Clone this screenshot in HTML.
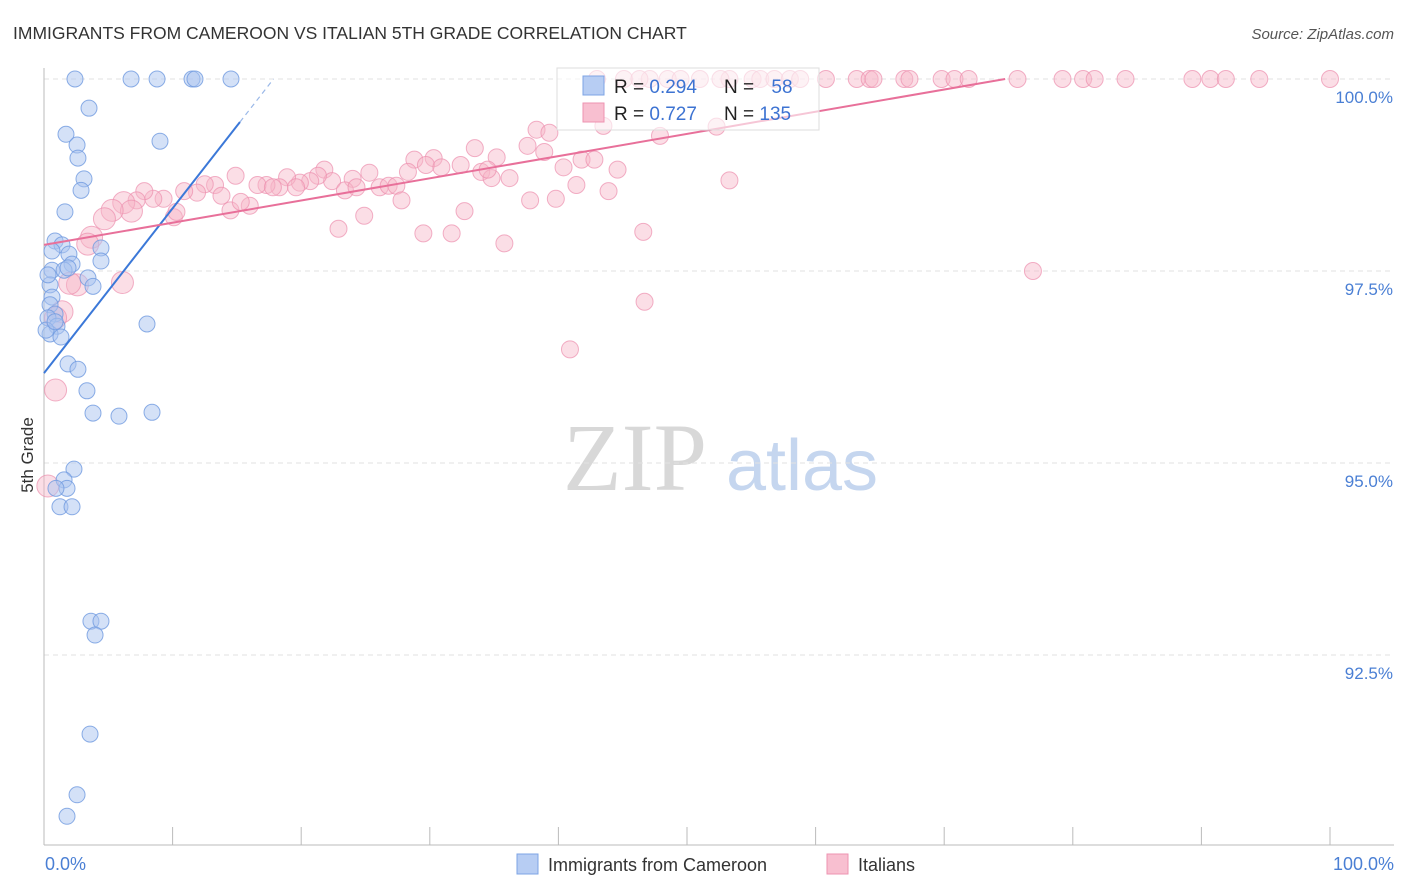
<!DOCTYPE html>
<html><head><meta charset="utf-8"><style>
body{margin:0;background:#fff;font-family:"Liberation Sans",sans-serif;}
svg{display:block}
</style></head><body>
<svg id="chart" width="1406" height="892" xmlns="http://www.w3.org/2000/svg">
<text x="13" y="39" font-size="17.5" fill="#333">IMMIGRANTS FROM CAMEROON VS ITALIAN 5TH GRADE CORRELATION CHART</text>
<text x="1394" y="39" font-size="15" fill="#555" font-style="italic" text-anchor="end">Source: ZipAtlas.com</text>
<text x="33" y="455" font-size="17" fill="#333" text-anchor="middle" transform="rotate(-90 33 455)">5th Grade</text>
<g>
<text x="635" y="490" font-size="96" fill="#d8d8d8" font-family="Liberation Serif,serif" text-anchor="middle">ZIP</text>
<text x="802" y="490" font-size="72" fill="#c5d6ef" text-anchor="middle">atlas</text>
</g>
<g id="grid"></g><g id="axes"></g><g id="pts"></g><g id="lines"></g>
<g>
<rect x="557" y="68" width="262" height="62" fill="#fff" fill-opacity="0.6" stroke="#ddd"/>
<rect x="583" y="76" width="21" height="19" fill="#b7cdf3" stroke="#7ea4e4"/>
<rect x="583" y="103" width="21" height="19" fill="#f8bfd0" stroke="#ee93b1"/>
<text x="614" y="93" font-size="19" fill="#222">R = <tspan fill="#3d73d2">0.294</tspan></text>
<text x="724" y="93" font-size="19" fill="#222">N = <tspan fill="#3d73d2" dx="12">58</tspan></text>
<text x="614" y="120" font-size="19" fill="#222">R = <tspan fill="#3d73d2">0.727</tspan></text>
<text x="724" y="120" font-size="19" fill="#222">N = <tspan fill="#3d73d2">135</tspan></text>
</g>
<g>
<rect x="517" y="854" width="21" height="20" fill="#b7cdf3" stroke="#7ea4e4"/>
<text x="548" y="871" font-size="18" fill="#333">Immigrants from Cameroon</text>
<rect x="827" y="854" width="21" height="20" fill="#f8bfd0" stroke="#ee93b1"/>
<text x="858" y="871" font-size="18" fill="#333">Italians</text>
</g>
</svg>
<script>
const blueX=[2.41,6.77,8.79,11.51,11.74,14.54,3.50,1.71,9.02,2.57,2.64,3.11,2.88,1.63,0.86,1.40,0.62,4.43,1.94,2.18,0.62,1.56,1.87,3.42,0.47,3.81,0.62,0.47,0.86,0.31,1.01,0.47,1.32,8.01,1.87,2.64,3.34,3.81,5.83,8.40,2.33,1.56,1.79,0.93,1.24,2.18,3.65,4.43,3.97,3.58,2.57,1.79,4.43,0.16,0.31,0.86];
const blueY=[100,100,100,100,100,100,99.62,99.28,99.19,99.14,98.97,98.70,98.55,98.27,97.89,97.84,97.76,97.80,97.72,97.59,97.51,97.51,97.54,97.41,97.32,97.30,97.16,97.06,96.94,96.89,96.78,96.68,96.64,96.81,96.29,96.22,95.94,95.65,95.61,95.66,94.92,94.78,94.67,94.67,94.43,94.43,92.94,92.94,92.76,91.47,90.68,90.40,97.63,96.73,97.45,96.84];
const pinkX=[43.0,45.1,47.1,48.5,51.0,53.3,55.1,55.7,56.8,58.0,58.8,60.8,63.2,64.2,64.5,66.9,67.3,69.8,70.8,71.9,75.7,79.2,80.8,81.7,84.1,89.3,90.7,91.9,94.5,100,46.3,49.5,52.6,
43.5,52.3,47.9,38.3,39.3,33.5,37.6,38.9,35.2,28.8,30.3,29.7,30.9,32.4,34.0,34.8,36.2,34.5,40.4,41.8,42.8,44.6,41.4,43.9,53.3,25.3,28.3,21.8,24.0,22.4,23.4,24.3,26.1,26.8,27.4,27.8,21.3,20.7,19.9,18.9,19.6,18.3,17.3,16.6,17.8,14.9,13.3,12.5,13.8,11.9,10.9,14.5,16.0,15.3,9.3,8.5,7.8,7.2,6.2,6.8,5.3,4.7,10.1,10.3,3.7,3.4,2.6,6.1,1.4,0.9,0.9,0.3,32.7,24.9,22.9,29.5,31.7,35.8,46.6,37.8,39.8,76.9,46.7,40.9,2.0];
const pinkY=[100,100,100,100,100,100,100,100,100,100,100,100,100,100,100,100,100,100,100,100,100,100,100,100,100,100,100,100,100,100,100,100,100,
99.39,99.38,99.26,99.34,99.30,99.10,99.13,99.05,98.98,98.95,98.97,98.88,98.85,98.88,98.79,98.71,98.71,98.82,98.85,98.95,98.95,98.82,98.62,98.54,98.68,98.78,98.79,98.82,98.70,98.67,98.55,98.59,98.59,98.61,98.61,98.42,98.74,98.67,98.65,98.72,98.59,98.59,98.62,98.62,98.59,98.74,98.62,98.63,98.48,98.52,98.54,98.29,98.35,98.40,98.44,98.44,98.54,98.42,98.39,98.28,98.29,98.18,98.20,98.27,97.94,97.85,97.32,97.35,96.97,96.89,95.95,94.70,98.28,98.22,98.05,97.99,97.99,97.86,98.01,98.42,98.44,97.50,97.10,96.48,97.34];
const blueTrend=[96.17,0.2146];
const pinkTrend=[97.84,0.0289];
const yTicks=[100,97.5,95,92.5];
const xTickLabels=["0.0%","100.0%"];
const NS="http://www.w3.org/2000/svg";
const sx=v=>44+v*12.86;
const sy=v=>79+(100-v)/2.5*192;
function mk(parent,tag,attrs){const e=document.createElementNS(NS,tag);for(const k in attrs)e.setAttribute(k,attrs[k]);document.getElementById(parent).appendChild(e);return e;}
yTicks.forEach(t=>{
 const l=mk('grid','line',{x1:44,x2:1394,y1:sy(t),y2:sy(t),stroke:'#e2e2e2','stroke-dasharray':'5,4'});
 
 
 const tx=mk('grid','text',{x:1393,y:sy(t)+24,'font-size':17,fill:'#4a7fd4','text-anchor':'end'});
 tx.textContent=t.toFixed(1)+'%';
 
 
});
let a=mk('axes','line',{x1:44,x2:44,y1:68,y2:845,stroke:'#bbb'});


a=mk('axes','line',{x1:44,x2:1394,y1:845,y2:845,stroke:'#bbb'});


for(let i=1;i<=10;i++){const t=mk('axes','line',{x1:sx(i*10),x2:sx(i*10),y1:827,y2:845,stroke:'#bbb'});
 
 }
[[0,'start',45],[100,'end',1394]].forEach((d,i)=>{const t=mk('axes','text',{x:d[2],y:870,'font-size':18,fill:'#4a7fd4','text-anchor':d[1]});t.textContent=xTickLabels[i];
 
 });
pinkX.forEach((x,i)=>{const big=x<8&&i>90;const c=mk('pts','circle',{cx:sx(x),cy:sy(pinkY[i]),r:big?11:8.5,fill:'#f6b5c8','fill-opacity':0.45,stroke:'#ec8fae','stroke-opacity':0.7});
 
 });
blueX.forEach((x,i)=>{const c=mk('pts','circle',{cx:sx(x),cy:sy(blueY[i]),r:8,fill:'#a9c4f0','fill-opacity':0.5,stroke:'#6f9ae0','stroke-opacity':0.8});
 
 });
const bEnd=15.24,bMax=(100-blueTrend[0])/blueTrend[1];
let L=mk('lines','line',{x1:sx(0),y1:sy(blueTrend[0]),x2:sx(bEnd),y2:sy(blueTrend[0]+blueTrend[1]*bEnd),stroke:'#3b78d8','stroke-width':2});


L=mk('lines','line',{x1:sx(bEnd),y1:sy(blueTrend[0]+blueTrend[1]*bEnd),x2:sx(bMax),y2:sy(100),stroke:'#9ab8e8','stroke-width':1.2,'stroke-dasharray':'5,4'});


const pMax=(100-pinkTrend[0])/pinkTrend[1];
L=mk('lines','line',{x1:sx(0),y1:sy(pinkTrend[0]),x2:sx(pMax),y2:sy(100),stroke:'#e8709a','stroke-width':2});


</script>
</body></html>
